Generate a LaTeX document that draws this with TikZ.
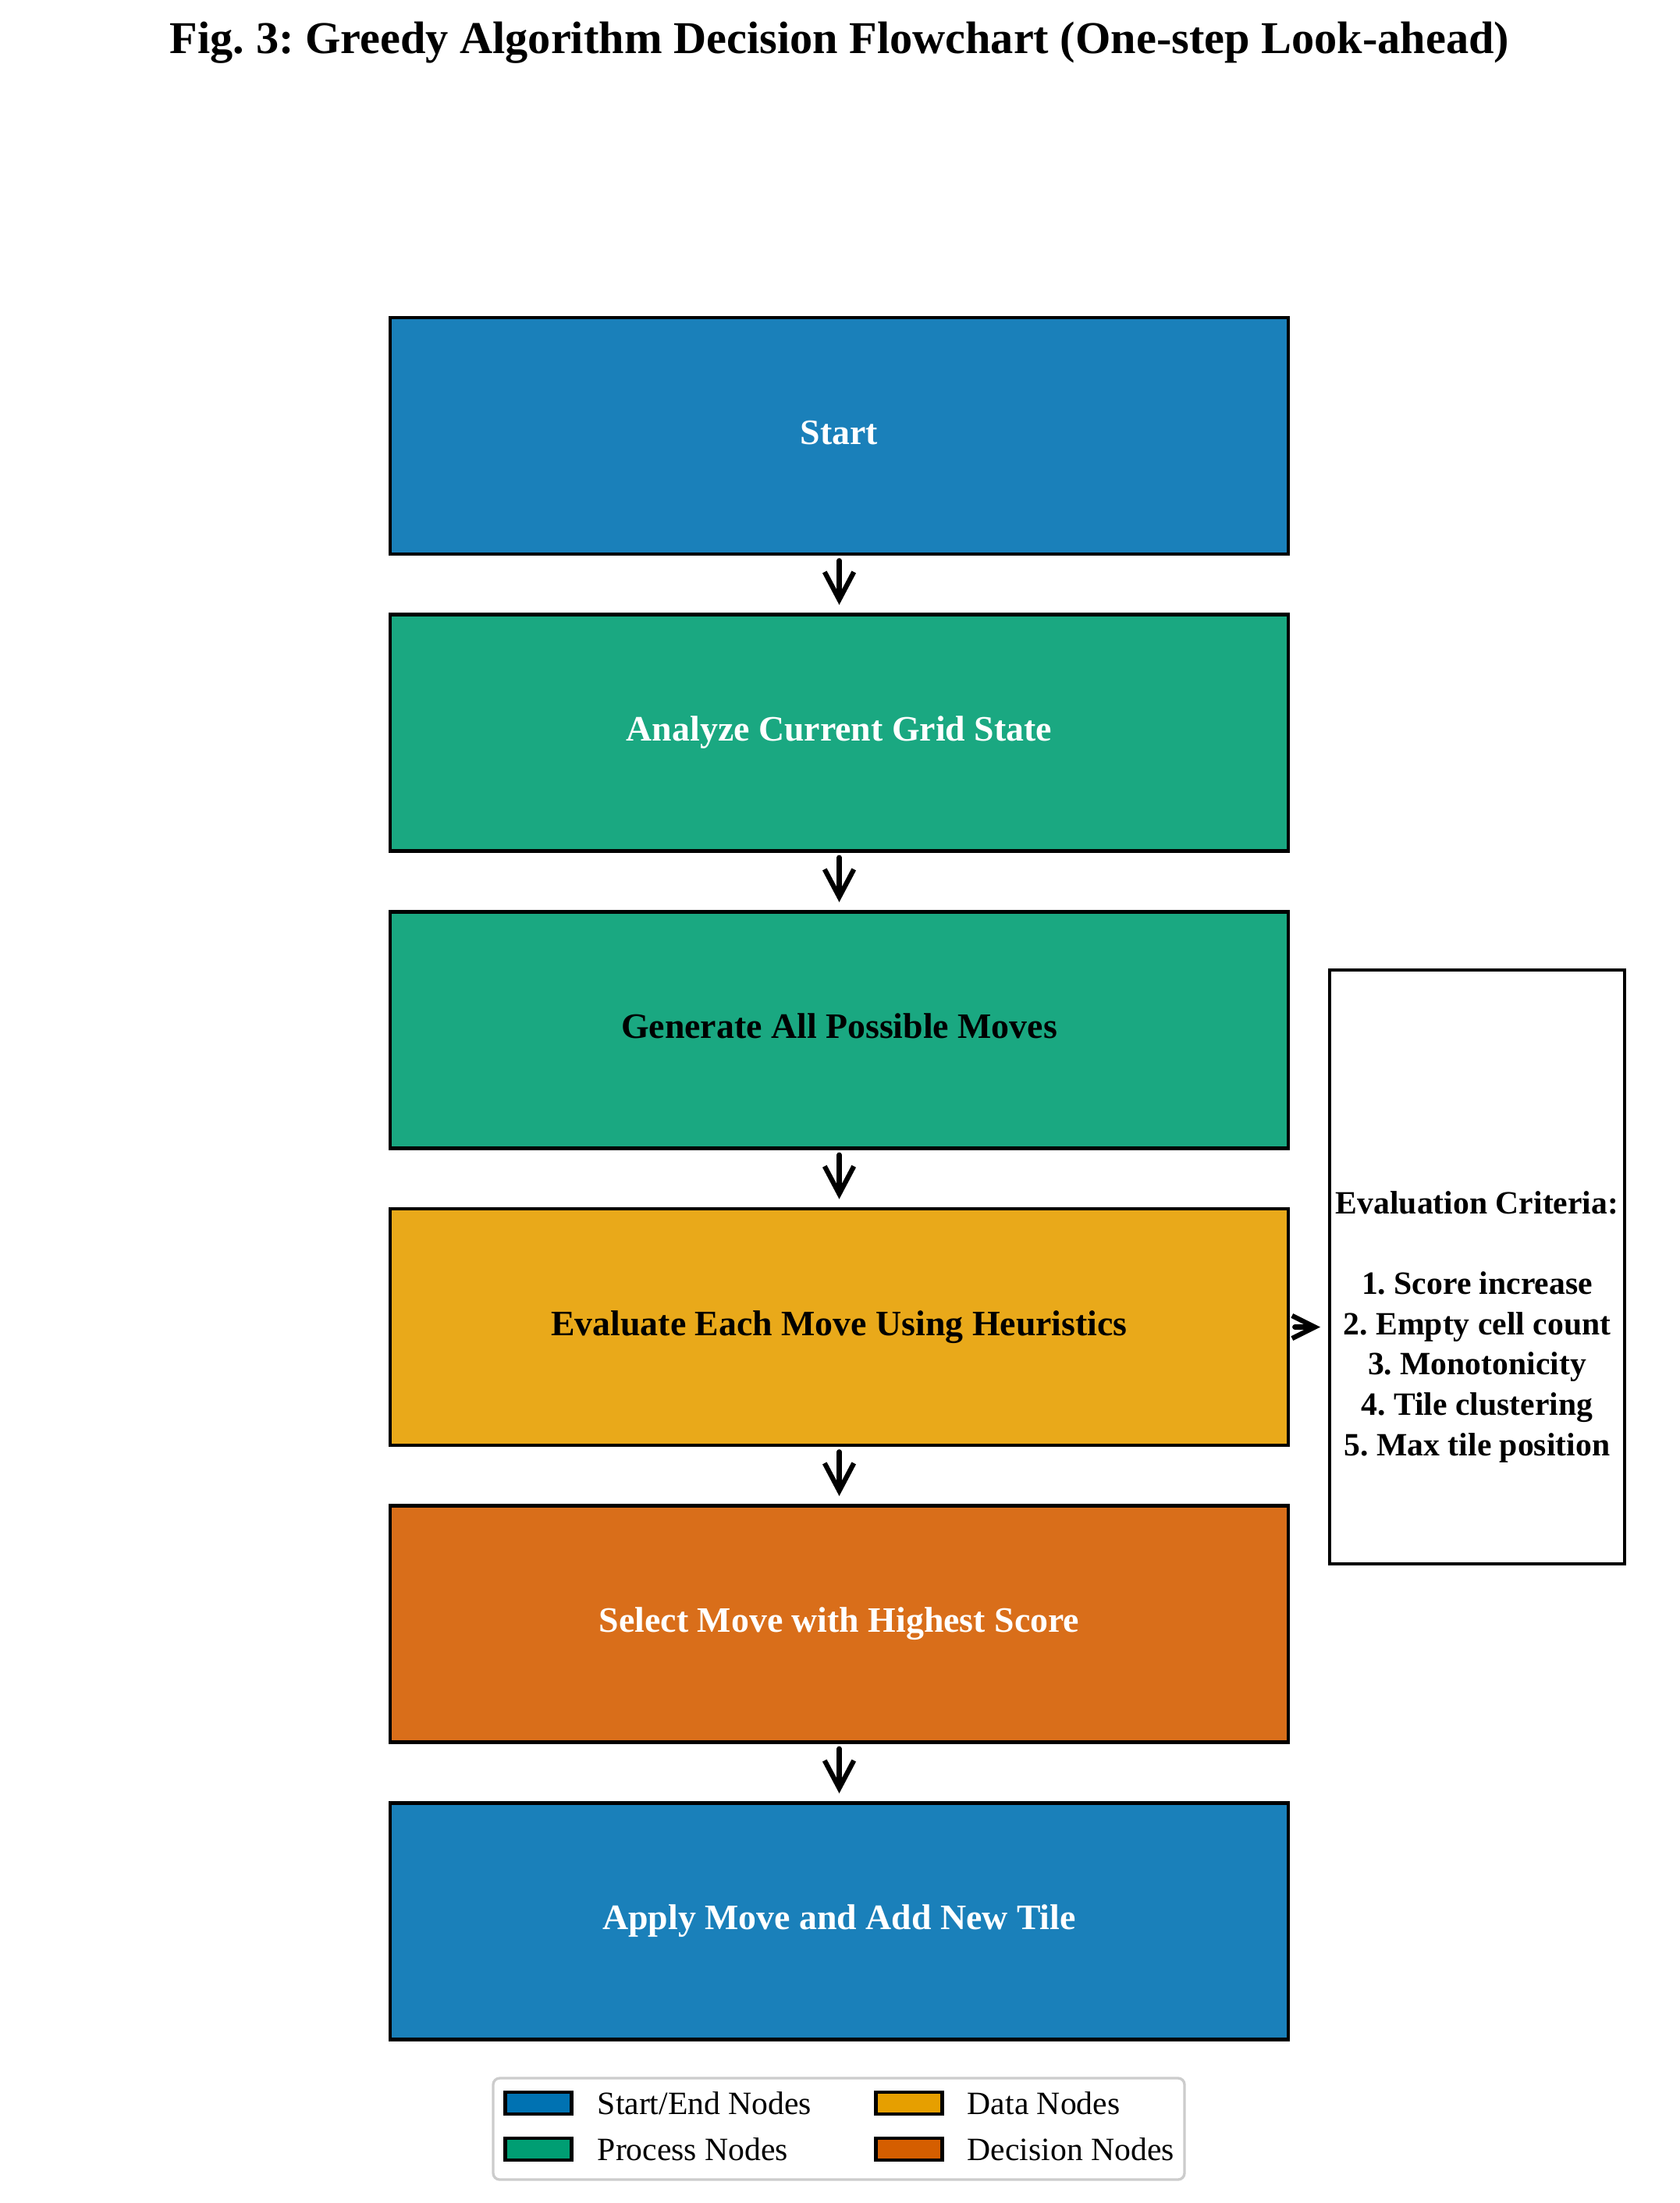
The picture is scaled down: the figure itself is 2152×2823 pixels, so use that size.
\documentclass[tikz,border=0pt]{standalone}
\usepackage{fontspec}
\setmainfont{Liberation Serif}
\usetikzlibrary{arrows.meta}

\definecolor{startblue}{HTML}{1A80BA}
\definecolor{procgreen}{HTML}{1AA881}
\definecolor{datagold}{HTML}{E9A91A}
\definecolor{decorange}{HTML}{D96E1A}
\definecolor{legblue}{HTML}{0072B2}
\definecolor{leggreen}{HTML}{009E73}
\definecolor{leggold}{HTML}{E69F00}
\definecolor{legorange}{HTML}{D55E00}

\frenchspacing

\begin{document}
\begin{tikzpicture}[x=0.24pt,y=-0.24pt,
	flowbox/.style={draw=black, line width=1pt, inner sep=0pt, outer sep=0pt,
		minimum width=276.2pt, minimum height=72.7pt, text height=7.5pt, text depth=2.4pt,
		font=\bfseries\fontsize{11}{13}\selectfont},
	flowarrow/.style={-{Straight Barb[length=8.5pt,width=9pt]}, line width=1.5pt,
		line cap=round, shorten <=2pt, shorten >=3pt},
	legpatch/.style={draw=black, line width=1pt, inner sep=0pt,
		minimum width=20.4pt, minimum height=6.7pt},
	legtext/.style={anchor=west, inner sep=0pt, font=\fontsize{10}{12}\selectfont}]

	\useasboundingbox (0,0) rectangle (2152,2823);

	%Title
	\node[anchor=base, font=\bfseries\fontsize{14}{17}\selectfont] (title) at (1076,69)
		{Fig. 3: Greedy Algorithm Decision Flowchart (One-step Look-ahead)};

	%Boxes
	\node[flowbox, fill=startblue, text=white] (start) at (1075.5,558.5) {Start};
	\node[flowbox, fill=procgreen, text=white] (analyze) at (1075.5,939) {Analyze Current Grid State};
	\node[flowbox, fill=procgreen] (generate) at (1075.5,1320) {Generate All Possible Moves};
	\node[flowbox, fill=datagold] (evaluate) at (1075.5,1700.5) {Evaluate Each Move Using Heuristics};
	\node[flowbox, fill=decorange, text=white] (select) at (1075.5,2081) {Select Move with Highest Score};
	\node[flowbox, fill=startblue, text=white] (apply) at (1075.5,2462) {Apply Move and Add New Tile};

	%Criteria
	\node[draw=black, line width=1pt, inner sep=0pt, outer sep=0pt,
		minimum width=90.7pt, minimum height=182.6pt] (crit) at (1893,1623.5) {};
	\node[align=center, font=\bfseries\fontsize{10}{12.4}\selectfont] (crittext) at (1893,1700)
		{Evaluation Criteria:\\[12.4pt]1. Score increase\\2. Empty cell count\\3. Monotonicity\\4. Tile clustering\\5. Max tile position};

	%Arrows
	\draw[flowarrow] (start) -- (analyze);
	\draw[flowarrow] (analyze) -- (generate);
	\draw[flowarrow] (generate) -- (evaluate);
	\draw[flowarrow] (evaluate) -- (select);
	\draw[flowarrow] (select) -- (apply);
	\draw[flowarrow, -{Straight Barb[length=7pt,width=7pt]}, shorten <=2pt, shorten >=2.9pt]
		(evaluate.east) -- (evaluate.east -| crit.west);

	%Legend
	\draw[draw=black!20, line width=0.8pt, fill=white, rounded corners=2pt] (632,2663) rectangle (1518,2793);
	\node[legpatch, fill=legblue] (legstart) at (690,2695) {};
	\node[legtext] (legstarttext) at (765,2695) {Start/End Nodes};
	\node[legpatch, fill=leggreen] (legproc) at (690,2754) {};
	\node[legtext] (legproctext) at (765,2754) {Process Nodes};
	\node[legpatch, fill=leggold] (legdata) at (1165,2695) {};
	\node[legtext] (legdatatext) at (1239,2695) {Data Nodes};
	\node[legpatch, fill=legorange] (legdec) at (1165,2754) {};
	\node[legtext] (legdectext) at (1239,2754) {Decision Nodes};

\end{tikzpicture}
\end{document}
